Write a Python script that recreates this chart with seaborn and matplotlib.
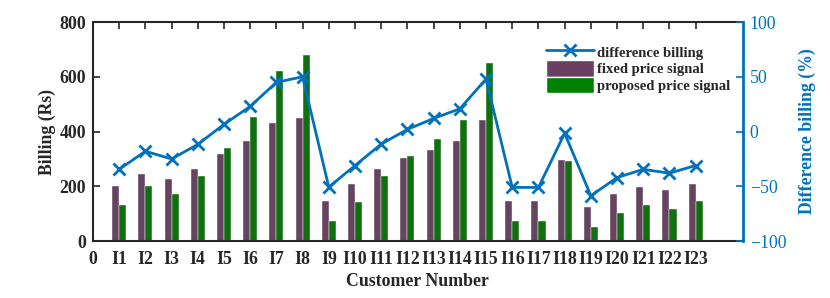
import pandas as pd
import seaborn as sns
import matplotlib.pyplot as plt
from matplotlib.patches import Patch
from matplotlib.lines import Line2D

# Data
customers = [f'I{i}' for i in range(1, 24)]
fixed_price = [200, 246, 226, 265, 319, 367, 432, 451, 148, 207, 265, 305,
               334, 364, 441, 148, 148, 295, 124, 173, 197, 187, 208]
proposed_price = [130, 202, 171, 236, 341, 453, 623, 681, 74, 143, 236, 310,
                  373, 441, 652, 74, 74, 291, 51, 101, 130, 118, 145]
difference_pct = [-34.5, -18, -25, -11.7, 6.6, 23, 45, 50, -50.7, -31, -11.4, 2,
                  12, 20.8, 48, -51, -51, -1.6, -58.6, -42, -34.5, -38, -31]

pos = list(range(1, len(customers) + 1))
bars = pd.DataFrame({
    'pos': pos * 2,
    'billing': fixed_price + proposed_price,
    'signal': ['fixed price signal'] * len(pos) + ['proposed price signal'] * len(pos),
})
line = pd.DataFrame({'pos': pos, 'diff': difference_pct})

sns.set_style('ticks')
plt.rcParams['font.family'] = ['Liberation Serif', 'DejaVu Serif']

blue = '#0072BD'
purple = '#6A3F63'
green = '#008000'
fs = 12.8

fig = plt.figure(figsize=(8.3, 2.98), dpi=100)
ax = fig.add_axes([0.112, 0.191, 0.783, 0.735])

sns.barplot(data=bars, x='pos', y='billing', hue='signal', native_scale=True,
            palette={'fixed price signal': purple, 'proposed price signal': green},
            width=0.54, ax=ax, edgecolor='white', linewidth=0.3, legend=False)
ax.set_xlim(0, 24.8)
ax.set_ylim(0, 800)
ax.set_xticks([0] + pos)
ax.set_xticklabels(['0'] + customers, fontweight='bold', fontsize=fs)
ax.set_yticks([0, 200, 400, 600, 800])
ax.set_yticklabels(['0', '200', '400', '600', '800'], fontweight='bold', fontsize=fs)
ax.set_xlabel('Customer Number', fontweight='bold', fontsize=fs, labelpad=4)
ax.set_ylabel('Billing (Rs)', fontweight='bold', fontsize=fs, labelpad=2)
ax.tick_params(axis='x', direction='in', top=True, length=5, width=1.2, colors='#262626', pad=7)
ax.tick_params(axis='y', direction='in', length=5, width=1.2, colors='#262626', pad=5)
for side in ['left', 'bottom', 'top']:
    ax.spines[side].set_linewidth(1.5)
    ax.spines[side].set_color('#262626')

ax2 = ax.twinx()
sns.lineplot(data=line, x='pos', y='diff', color=blue, marker='x', markersize=9,
             markeredgewidth=2, markeredgecolor=blue, linewidth=2, ax=ax2, legend=False)
ax2.set_ylim(-100, 100)
ax2.set_yticks([-100, -50, 0, 50, 100])
ax2.set_ylabel('Difference billing (%)', color=blue, fontweight='bold', fontsize=fs, labelpad=9)
ax2.tick_params(axis='y', direction='in', colors=blue, length=5, width=1.2, labelsize=fs, pad=5)
ax2.spines['right'].set_color(blue)
ax2.spines['right'].set_linewidth(2)
for side in ['left', 'bottom', 'top']:
    ax2.spines[side].set_visible(False)
ax2.set_xlim(0, 24.8)

handles = [Line2D([], [], color=blue, marker='x', markersize=9, markeredgewidth=2, linewidth=2),
           Patch(facecolor=purple, edgecolor='white'),
           Patch(facecolor=green, edgecolor='white')]
labels = ['difference billing', 'fixed price signal', 'proposed price signal']
ax2.legend(handles, labels, loc='upper right', bbox_to_anchor=(0.98, 0.9),
           frameon=False, prop={'weight': 'bold', 'size': 10.5},
           handlelength=3.3, handleheight=1.35, handletextpad=0.2,
           labelspacing=0.0, borderaxespad=0, borderpad=0)

plt.savefig('out.png', dpi=100)
